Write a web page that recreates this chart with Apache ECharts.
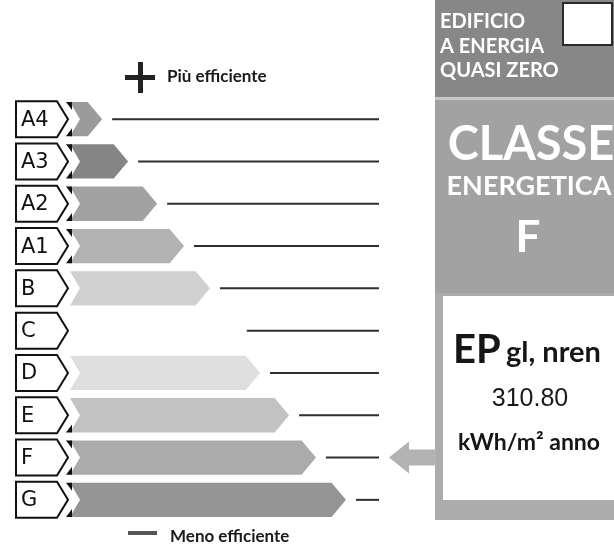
<!DOCTYPE html>
<html>
<head>
<meta charset="utf-8">
<script src="https://cdn.jsdelivr.net/npm/echarts@6/dist/echarts.min.js"></script>
<style>
html,body{margin:0;padding:0;background:#fff;}
#chart{width:614px;height:549px;}
</style>
</head>
<body>
<div id="chart"></div>
<script>
// ---- data ----
const classes = ['A4', 'A3', 'A2', 'A1', 'B', 'C', 'D', 'E', 'F', 'G'];
const barLengths = [10.4, 18.8, 28.2, 36.9, 45.3, 54.0, 61.5, 70.9, 79.6, 89.3];
const scaleEnd = 100;
const currentClass = 'F';
const epValue = '310.80';
const epUnit = 'kWh/m\u00b2 anno';
const topLabel = 'Più efficiente';
const bottomLabel = 'Meno efficiente';
const nzebLines = ['EDIFICIO', 'A ENERGIA', 'QUASI ZERO'];

// ---- styles ----
const barColors = ['#9b9b9b', '#858585', '#a2a2a2', '#b2b2b2', '#d0d0d0', '#ffffff', '#dedede', '#c2c2c2', '#ababab', '#959595'];
const cornerMarks = ['both', 'both', 'both', 'both', 'none', 'none', 'none', 'bottom', 'both', 'both'];

const chart = echarts.init(document.getElementById('chart'), null, {renderer: 'canvas'});

function renderRow(params, api) {
  const idx = api.value(1);
  const v = api.value(0);
  const s = api.coord([0, idx]);
  const e = api.coord([v, idx]);
  const endX = api.coord([scaleEnd, idx])[0];
  const band = api.size([0, 1])[1];
  const h = band * 0.81;
  const cy = s[1];
  const y0 = cy - h / 2, y1 = cy + h / 2;
  const tip = h * 0.42;
  const children = [];
  // label pentagon
  const lh = 36;
  const L = s[0] - 54, R = s[0] - 13, T = s[0] - 2;
  children.push({
    type: 'polygon',
    shape: {points: [[L, cy - lh / 2], [R, cy - lh / 2], [T, cy], [R, cy + lh / 2], [L, cy + lh / 2]]},
    style: {fill: '#fff', stroke: '#111', lineWidth: 2}
  });
  children.push({
    type: 'text',
    style: {text: classes[idx], x: L + 5, y: cy + 1, fill: '#111', font: '21px "DejaVu Sans"', align: 'left', verticalAlign: 'middle'}
  });
  // bar arrow
  children.push({
    type: 'polygon',
    shape: {points: [[s[0], y0], [e[0] - tip, y0], [e[0], cy], [e[0] - tip, y1], [s[0], y1], [s[0] + 10, cy]]},
    style: {fill: barColors[idx]}
  });
  const cm = cornerMarks[idx];
  if (cm === 'both') {
    children.push({type: 'polygon', shape: {points: [[s[0] - 4, y0], [s[0] + 2, y0], [s[0] + 2, y0 + 8]]}, style: {fill: '#111'}});
  }
  if (cm === 'both' || cm === 'bottom') {
    children.push({type: 'polygon', shape: {points: [[s[0] - 4, y1], [s[0] + 2, y1], [s[0] + 2, y1 - 8]]}, style: {fill: '#111'}});
  }
  // line
  children.push({
    type: 'line',
    shape: {x1: e[0] + 10, y1: cy, x2: endX, y2: cy},
    style: {stroke: '#2e2e2e', lineWidth: 2}
  });
  return {type: 'group', children: children};
}

function renderPointer(params, api) {
  const idx = api.value(1);
  const cy = api.coord([0, idx])[1];
  return {
    type: 'polygon',
    shape: {points: [[389, cy], [409, cy - 16], [409, cy - 8], [436, cy - 8], [436, cy + 8], [409, cy + 8], [409, cy + 16]]},
    style: {fill: '#b3b3b3'}
  };
}

const graphics = [
  // right panel
  {type: 'rect', shape: {x: 435, y: 0, width: 179, height: 97}, style: {fill: '#878787'}},
  {type: 'rect', shape: {x: 435, y: 97, width: 179, height: 3}, style: {fill: '#c8c8c8'}},
  {type: 'rect', shape: {x: 435, y: 100, width: 179, height: 193}, style: {fill: '#a2a2a2'}},
  {type: 'rect', shape: {x: 435, y: 293, width: 179, height: 227}, style: {fill: '#ababab'}},
  {type: 'rect', shape: {x: 443, y: 296, width: 171, height: 204}, style: {fill: '#ffffff'}},
  {type: 'rect', shape: {x: 563, y: 3, width: 49, height: 42}, style: {fill: '#ffffff', stroke: '#2a2a2a', lineWidth: 2}},
  {type: 'text', style: {text: nzebLines[0], x: 440, y: 22, fill: '#fff', font: 'bold 20px Lato', verticalAlign: 'middle'}},
  {type: 'text', style: {text: nzebLines[1], x: 440, y: 47, fill: '#fff', font: 'bold 20px Lato', verticalAlign: 'middle'}},
  {type: 'text', style: {text: nzebLines[2], x: 440, y: 71, fill: '#fff', font: 'bold 20px Lato', verticalAlign: 'middle'}},
  {type: 'text', style: {text: 'CLASSE', x: 531, y: 145, fill: '#fff', font: 'bold 47px Lato', align: 'center', verticalAlign: 'middle'}},
  {type: 'text', style: {text: 'ENERGETICA', x: 529, y: 186, fill: '#fff', font: 'bold 27px Lato', align: 'center', verticalAlign: 'middle'}},
  {type: 'text', style: {text: currentClass, x: 528, y: 238, fill: '#fff', font: 'bold 44px Lato', align: 'center', verticalAlign: 'middle'}},
  {type: 'text', style: {text: 'EP', x: 453, y: 350, fill: '#161616', font: 'bold 40px Lato', verticalAlign: 'middle'}},
  {type: 'text', style: {text: 'gl, nren', x: 506, y: 353, fill: '#161616', font: 'bold 29px Lato', verticalAlign: 'middle'}},
  {type: 'text', style: {text: epValue, x: 530, y: 399, fill: '#1a1a1a', font: '25px "Liberation Sans"', align: 'center', verticalAlign: 'middle'}},
  {type: 'text', style: {text: epUnit, x: 529, y: 443, fill: '#161616', font: 'bold 23px Lato', align: 'center', verticalAlign: 'middle'}},
  // legend top
  {type: 'rect', shape: {x: 125, y: 75, width: 30, height: 5}, style: {fill: '#222'}},
  {type: 'rect', shape: {x: 138, y: 62, width: 5, height: 31}, style: {fill: '#222'}},
  {type: 'text', style: {text: topLabel, x: 167, y: 77, fill: '#1a1a1a', font: 'bold 17px Lato', verticalAlign: 'middle'}},
  // legend bottom
  {type: 'rect', shape: {x: 128, y: 531, width: 29, height: 4}, style: {fill: '#555'}},
  {type: 'text', style: {text: bottomLabel, x: 170, y: 537, fill: '#1a1a1a', font: 'bold 17px Lato', verticalAlign: 'middle'}}
];

chart.setOption({
  animation: false,
  backgroundColor: '#ffffff',
  grid: {left: 70, right: 235, top: 98, bottom: 28},
  xAxis: {type: 'value', min: 0, max: scaleEnd, show: false},
  yAxis: {type: 'category', data: classes, inverse: true, show: false},
  graphic: graphics,
  series: [
    {
      type: 'custom',
      clip: false,
      renderItem: renderRow,
      encode: {x: 0, y: 1},
      data: barLengths.map((v, i) => [v, i])
    },
    {
      type: 'custom',
      clip: false,
      renderItem: renderPointer,
      encode: {x: 0, y: 1},
      data: [[0, classes.indexOf(currentClass)]]
    }
  ]
});
</script>
</body>
</html>
